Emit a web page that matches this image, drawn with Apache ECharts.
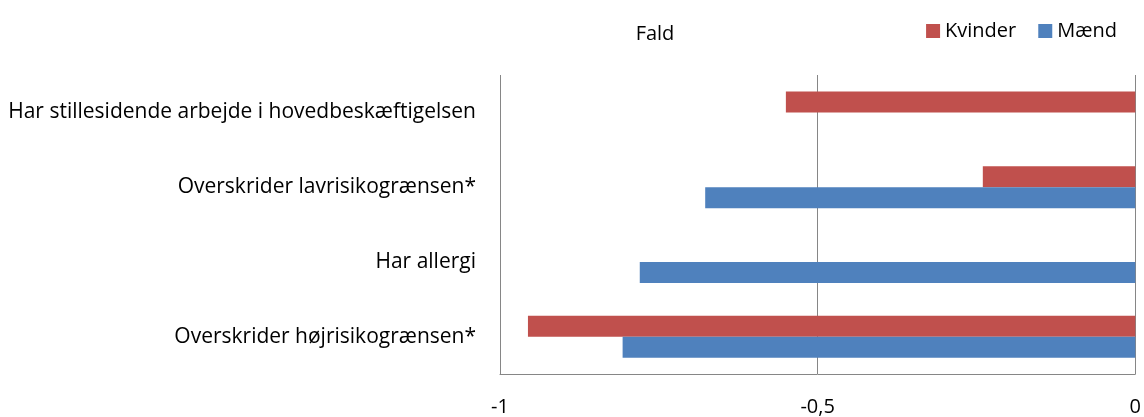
<!DOCTYPE html>
<html>
<head>
<meta charset="utf-8">
<script src="https://cdn.jsdelivr.net/npm/echarts@6/dist/echarts.min.js"></script>
<style>
  html, body { margin: 0; padding: 0; background: #fff; }
  #main { width: 1144px; height: 417px; }
</style>
</head>
<body>
<div id="main"></div>
<script>
// kategorier, fra top til bund
const categories = [
  'Har stillesidende arbejde i hovedbeskæftigelsen',
  'Overskrider lavrisikogrænsen*',
  'Har allergi',
  'Overskrider højrisikogrænsen*'
]
const kvinder = [-0.55, -0.24, null, -0.956]
const maend = [null, -0.677, -0.78, -0.807]
const xTicks = { min: -1, max: 0, interval: 0.5 }

const font = 'Open Sans'
const fs = 20
const lineColor = '#868686'

const chart = echarts.init(document.getElementById('main'))
chart.setOption({
  animation: false,
  textStyle: { fontFamily: font },
  title: {
    text: 'Fald',
    left: 650,
    top: 19,
    textAlign: 'center',
    textStyle: { fontFamily: font, fontSize: fs, fontWeight: 'normal', color: '#000' }
  },
  legend: {
    data: ['Kvinder', 'Mænd'],
    right: 22,
    top: 16,
    itemWidth: 14,
    itemHeight: 14,
    itemGap: 22,
    icon: 'rect',
    textStyle: { fontFamily: font, fontSize: fs, color: '#000' }
  },
  grid: { left: 500, right: 7, top: 75, bottom: 41 },
  xAxis: {
    type: 'value',
    min: xTicks.min,
    max: xTicks.max,
    interval: xTicks.interval,
    axisLine: { show: true, onZero: false, lineStyle: { color: lineColor, width: 1 } },
    axisTick: { show: false },
    splitLine: { show: true, lineStyle: { color: lineColor, width: 1 } },
    axisLabel: {
      fontFamily: font, fontSize: fs, color: '#000', margin: 23,
      formatter: v => String(v).replace('.', ',')
    }
  },
  yAxis: {
    type: 'category',
    inverse: true,
    data: categories,
    axisLine: { show: false },
    axisTick: { show: false },
    axisLabel: { fontFamily: font, fontSize: 21, color: '#000', margin: 24 }
  },
  series: [
    {
      name: 'Kvinder',
      type: 'bar',
      data: kvinder,
      barWidth: 21,
      barGap: '0%',
      itemStyle: { color: '#C0504D' }
    },
    {
      name: 'Mænd',
      type: 'bar',
      data: maend,
      barWidth: 21,
      barGap: '0%',
      itemStyle: { color: '#4F81BD' }
    }
  ]
})
</script>
</body>
</html>
